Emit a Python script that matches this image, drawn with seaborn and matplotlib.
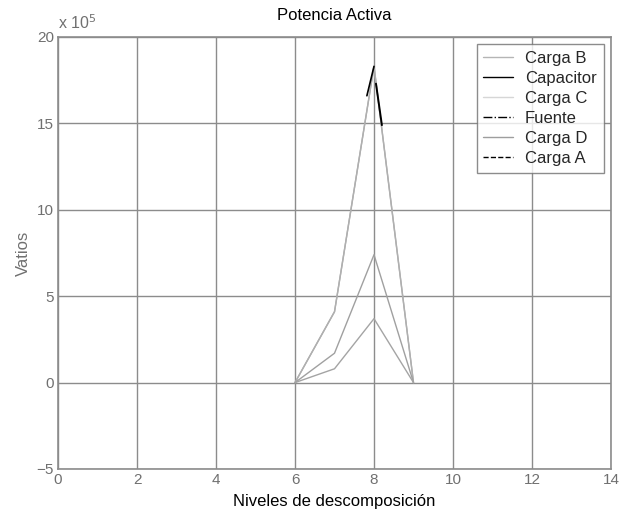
import numpy as np
import matplotlib
matplotlib.use("Agg")
import matplotlib.pyplot as plt
import seaborn as sns
from matplotlib.lines import Line2D

# Data (values in units of 1e5 W)
niveles = [6, 7, 8, 9]
carga_b = [0.0, 4.1, 18.3, 0.0]
carga_c = [0.0, 4.1, 18.3, 0.0]
carga_d = [0.0, 1.7, 7.4, 0.0]
capacitor = [0.0, 0.8, 3.7, 0.0]
# visible fragments of the black series near the peak
fuente_x = [7.82, 8.0]
fuente_y = [16.6, 18.3]
carga_a_x = [8.05, 8.2]
carga_a_y = [17.3, 14.9]

series_order = ["Carga B", "Capacitor", "Carga C", "Fuente", "Carga D", "Carga A"]

sns.set_theme(style="white")
plt.rcParams['font.family'] = ['Liberation Sans', 'DejaVu Sans']

fig = plt.figure(figsize=(6.21, 5.16), dpi=100)
ax = fig.add_axes([58/621, 47/516, 553/621, 432/516])

gray = "#8c8c8c"

sns.lineplot(x=niveles, y=carga_b, ax=ax, color="#a8a8a8", lw=1.0, legend=False)
sns.lineplot(x=niveles, y=carga_c, ax=ax, color="#b0b0b0", lw=1.0, legend=False)
sns.lineplot(x=niveles, y=carga_d, ax=ax, color="#a0a0a0", lw=1.0, legend=False)
sns.lineplot(x=niveles, y=capacitor, ax=ax, color="#a4a4a4", lw=1.0, legend=False)
sns.lineplot(x=fuente_x, y=fuente_y, ax=ax, color="black", lw=1.2, legend=False)
sns.lineplot(x=carga_a_x, y=carga_a_y, ax=ax, color="black", lw=1.4, legend=False)

ax.set_xlim(0, 14)
ax.set_ylim(-5, 20)
ax.set_xticks(np.arange(0, 15, 2))
ax.set_yticks(np.arange(-5, 21, 5))
ax.grid(True, color=gray, lw=1.0)
ax.set_axisbelow(True)
for sp in ax.spines.values():
    sp.set_color(gray)
    sp.set_linewidth(1.2)
ax.tick_params(colors="#707070", labelsize=11, length=4, direction="in",
               width=1.0, pad=3)
ax.tick_params(axis='x', pad=3)

ax.set_title("Potencia Activa", fontsize=12, color="black", pad=12)
ax.set_xlabel("Niveles de descomposición", fontsize=12, color="black", labelpad=5)
ax.set_ylabel("Vatios", fontsize=12, color="#707070", labelpad=4)
ax.text(0.0, 1.012, r"x 10$^{5}$", transform=ax.transAxes, fontsize=11.5,
        color="#707070", ha="left", va="bottom")

styles = {
    "Carga B": dict(color="#b5b5b5", ls="-", lw=1.0),
    "Capacitor": dict(color="black", ls="-", lw=1.0),
    "Carga C": dict(color="#d6d6d6", ls="-", lw=1.0),
    "Fuente": dict(color="black", ls="-.", lw=1.0),
    "Carga D": dict(color="#9e9e9e", ls="-", lw=1.0),
    "Carga A": dict(color="black", ls="--", lw=1.0),
}
handles = [Line2D([], [], **styles[n]) for n in series_order]
leg = ax.legend(handles, series_order, loc="upper right", fontsize=12,
                frameon=True, fancybox=False, borderpad=0.4, labelspacing=0.3,
                handlelength=1.8, handletextpad=0.7, borderaxespad=0.45)
leg.get_frame().set_edgecolor("#707070")
leg.get_frame().set_linewidth(1.0)

fig.savefig("out.png", dpi=100)
